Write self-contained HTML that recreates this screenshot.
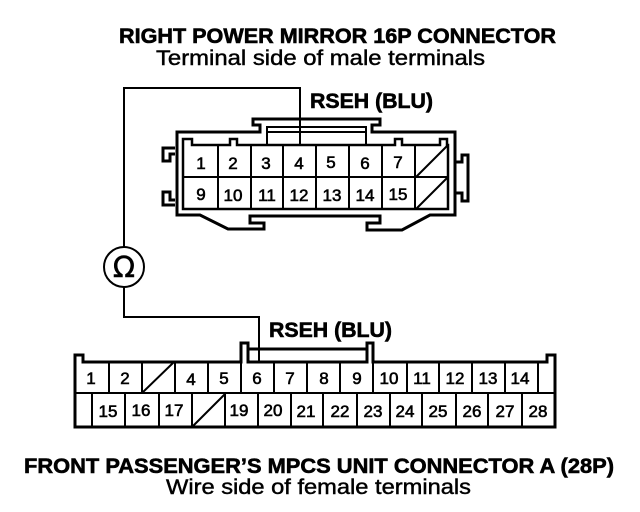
<!DOCTYPE html>
<html><head><meta charset="utf-8"><style>
html,body{margin:0;padding:0;background:#fff;width:640px;height:512px;overflow:hidden}
svg{display:block}
text{font-family:"Liberation Sans",sans-serif;fill:#000}
.b{font-weight:bold;font-size:21px;stroke:#000;stroke-width:.6}
.r{font-size:21px;stroke:#000;stroke-width:.45}
.n{font-size:17px;text-anchor:middle;stroke:#000;stroke-width:.6}
</style></head><body>
<svg width="640" height="512" viewBox="0 0 640 512" fill="none" stroke="#000" stroke-width="2">
<text class="b" x="119" y="43" textLength="437" lengthAdjust="spacingAndGlyphs">RIGHT POWER MIRROR 16P CONNECTOR</text>
<text class="r" x="156" y="65" textLength="329" lengthAdjust="spacingAndGlyphs">Terminal side of male terminals</text>
<text class="b" x="310" y="108" textLength="123" lengthAdjust="spacingAndGlyphs">RSEH (BLU)</text>
<text class="b" x="269" y="337" textLength="123" lengthAdjust="spacingAndGlyphs">RSEH (BLU)</text>
<text class="b" x="24" y="473" textLength="590" lengthAdjust="spacingAndGlyphs">FRONT PASSENGER’S MPCS UNIT CONNECTOR A (28P)</text>
<text class="r" x="166" y="494" textLength="305" lengthAdjust="spacingAndGlyphs">Wire side of female terminals</text>

<!-- wires and meter -->
<path d="M300 144V88H124V247M124 287V317H259V362"/>
<circle cx="124" cy="267" r="20"/>
<text x="124" y="277" font-size="29" text-anchor="middle" style="font-family:'DejaVu Sans',sans-serif;stroke:#000;stroke-width:.5">Ω</text>

<!-- top connector -->
<path stroke-width="3" d="M177 215V132H260V125H253V119H380V125H372V132H455V215H430L402 230H367V223H380V216H250V223H264V229H228L200 215Z"/>
<path stroke-width="3" d="M175 148H163V161H170V154H175M175 200H170V192H163V205H175M455 162H462V155H468V201H462V193H455"/>
<path stroke-width="2.5" d="M183 209V139H192V145H230V139H237V145H395V139H402V145H440V139H447V145H448V209Z"/>
<path d="M183 177H448M218 145V209M251 145V209M283 145V209M316 145V209M349 145V209M382 145V209M415 145V209"/>
<path d="M267 145V127H366V145M267 132H366"/>
<path d="M416 177L447 146M416 209L447 178"/>
<g>
<text class="n" x="201" y="169">1</text><text class="n" x="233" y="169">2</text><text class="n" x="266" y="169">3</text><text class="n" x="299" y="169">4</text><text class="n" x="331" y="168">5</text><text class="n" x="365" y="169">6</text><text class="n" x="398" y="168">7</text>
<text class="n" x="201" y="200">9</text><text class="n" x="233" y="201">10</text><text class="n" x="267" y="201">11</text><text class="n" x="299" y="201">12</text><text class="n" x="332" y="201">13</text><text class="n" x="365" y="201">14</text><text class="n" x="398" y="200">15</text>
</g>

<!-- bottom connector -->
<path stroke-width="3" d="M75 427V355H83V362H241V343H248V362H367V343H373V362H547V355H555V427Z"/>
<path stroke-width="3" d="M248 349H367"/>
<path d="M75 393H555M109 362V393M142 362V393M175 362V393M208 362V393M241 362V393M274 362V393M307 362V393M340 362V393M373 362V393M407 362V393M439 362V393M472 362V393M505 362V393M538 362V393"/>
<path d="M92 393V427M125 393V427M159 393V427M192 393V427M225 393V427M258 393V427M291 393V427M323 393V427M357 393V427M390 393V427M422 393V427M456 393V427M488 393V427M522 393V427"/>
<path d="M142 393L174 362M192 427L225 394"/>
<g>
<text class="n" x="91" y="384">1</text><text class="n" x="125" y="384">2</text><text class="n" x="191" y="385">4</text><text class="n" x="224" y="384">5</text><text class="n" x="257" y="384">6</text><text class="n" x="290" y="384">7</text><text class="n" x="324" y="384">8</text><text class="n" x="357" y="384">9</text><text class="n" x="389" y="384">10</text><text class="n" x="422" y="384">11</text><text class="n" x="455" y="384">12</text><text class="n" x="488" y="384">13</text><text class="n" x="520" y="384">14</text>
<text class="n" x="108" y="417">15</text><text class="n" x="141" y="416">16</text><text class="n" x="174" y="416">17</text><text class="n" x="239" y="416">19</text><text class="n" x="273" y="416">20</text><text class="n" x="306" y="417">21</text><text class="n" x="340" y="417">22</text><text class="n" x="373" y="417">23</text><text class="n" x="405" y="417">24</text><text class="n" x="438" y="417">25</text><text class="n" x="472" y="417">26</text><text class="n" x="505" y="417">27</text><text class="n" x="538" y="417">28</text>
</g>
</svg>
</body></html>
